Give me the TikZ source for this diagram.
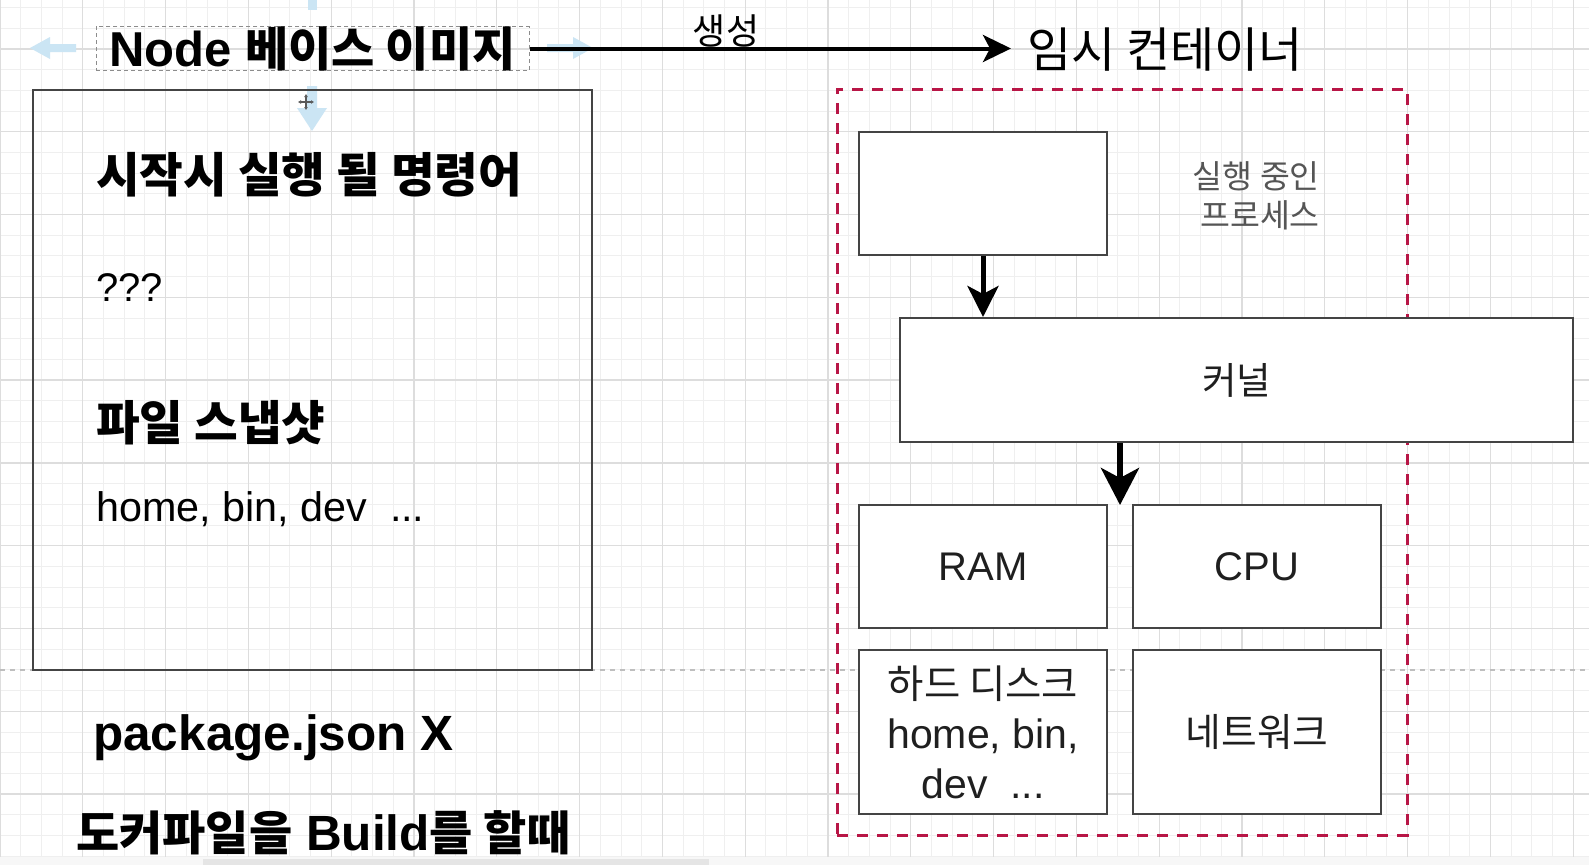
\documentclass[tikz,border=0pt]{standalone}
\usepackage{fontspec}
\setmainfont{Liberation Sans}
\newfontfamily\kr{Noto Sans CJK KR}
\usetikzlibrary{arrows.meta}
\newcommand\setfs[1]{\fontsize{#1}{#1}\selectfont}
\definecolor{gridminor}{RGB}{239,239,239}
\definecolor{gridmajor}{RGB}{221,221,221}
\definecolor{crim}{RGB}{184,22,70}
\definecolor{hoverblue}{RGB}{203,229,244}
\definecolor{boxline}{RGB}{68,68,68}
\definecolor{txtgray}{RGB}{85,85,85}
\definecolor{guide}{RGB}{190,190,190}
\begin{document}
\begin{tikzpicture}[x=1pt,y=-1pt,
  minorline/.style={gridminor, line width=1pt},
  majorline/.style={gridmajor, line width=1.3pt},
  plainbox/.style={draw=boxline, line width=2pt, fill=white, inner sep=0pt, text=black!88},
  lefttext/.style={anchor=base west, inner sep=0pt},
  toparrow/.style={-{Stealth[length=28pt,width=27pt,inset=7pt]}, line width=4pt},
  arrowa/.style={-{Stealth[length=31pt,width=31pt,inset=8pt]}, line width=5pt},
  arrowb/.style={-{Stealth[length=37pt,width=38pt,inset=10pt]}, line width=6pt},
]
\useasboundingbox (0,0) rectangle (1589,865);
\fill[white] (0,0) rectangle (1589,865);
% grid
\foreach \i in {0,...,77} \draw[minorline] ({\i*20.7},0) -- ({\i*20.7},865);
\foreach \j in {0,...,41} \draw[minorline] (0,{7.5+\j*20.7}) -- (1589,{7.5+\j*20.7});
\foreach \i in {0,...,19} \draw[majorline] ({\i*82.8},0) -- ({\i*82.8},865);
\foreach \j in {0,...,9} \draw[majorline] (0,{48.9+\j*82.8}) -- (1589,{48.9+\j*82.8});
% bottom strip
\fill[black!3] (0,857) rectangle (1589,865);
\fill[black!10] (203,859) rectangle (709,865);
% guide line
\coordinate (gl) at (0,670);
\coordinate (gr) at (1589,670);
\draw[guide, line width=1.5pt, dash pattern=on 5pt off 5pt] (gl) -- (gr);
% hover arrows
\fill[hoverblue] (30,48) -- (50,37) -- (50,44) -- (76,44) -- (76,52) -- (50,52) -- (50,59) -- cycle;
\fill[hoverblue] (593,48) -- (573,37) -- (573,44) -- (547,44) -- (547,52) -- (573,52) -- (573,59) -- cycle;
\fill[hoverblue] (308,0) rectangle (317,10);
\fill[hoverblue] (307,86) -- (317,86) -- (317,108) -- (327,108) -- (312,131) -- (297,108) -- (307,108) -- cycle;
% left image box
\node[draw=boxline, line width=2pt, minimum width=559pt, minimum height=580pt, inner sep=0pt] (imgbox) at (312.5,380) {};
% move cursor
\draw[black!65, line width=1.2pt, {Latex[length=3pt,width=4pt]}-{Latex[length=3pt,width=4pt]}] (298,102) -- (314,102);
\draw[black!65, line width=1.2pt, {Latex[length=3pt,width=4pt]}-{Latex[length=3pt,width=4pt]}] (306,94) -- (306,110);
% title
\node[draw=black!45, line width=1pt, dash pattern=on 4pt off 3pt, minimum width=433pt, minimum height=41pt, inner sep=0pt] (title) at (312.5,48.5)
  {\bfseries\setfs{49}Node {\kr\setfs{47}베이스 이미지}};
\node[anchor=base west, inner xsep=16pt, inner ysep=0pt] (tmp) at (1011,67) {\kr\setfs{48}임시 컨테이너};
\draw[toparrow] (title.east) -- (title.east -| tmp.west);
\node[anchor=base, inner sep=0pt] (gen) at (726,44) {\kr\setfs{36}생성};
% left texts
\node[lefttext] (cmdh) at (96,192) {\kr\bfseries\setfs{47.5}시작시 실행 될 명령어};
\node[lefttext] (cmdv) at (96,301) {\setfs{40}???};
\node[lefttext] (snaph) at (96,440) {\kr\bfseries\setfs{47.5}파일 스냅샷};
\node[lefttext] (snapv) at (96,521) {\setfs{41.3}home, bin, dev\ \ ...};
\node[lefttext] (pkg) at (93,750) {\bfseries\setfs{49.5}package.json X};
\node[lefttext] (build) at (76,850) {\bfseries\setfs{49.5}{\kr\setfs{47}도커파일을} Build{\kr\setfs{47}를 할때}};
% container
\node[draw=crim, line width=3pt, dash pattern=on 11pt off 9pt, minimum width=570pt, minimum height=746pt, inner sep=0pt] (cont) at (1122,462) {};
% process
\node[plainbox, minimum width=248pt, minimum height=123pt] (proc) at (983,193.5) {};
\node[anchor=base east, inner sep=0pt, text=txtgray] (procl1) at (1320,188) {\kr\setfs{32.5}실행 중인};
\node[anchor=base east, inner sep=0pt, text=txtgray] (procl2) at (1320,227) {\kr\setfs{32.5}프로세스};
% kernel
\node[plainbox, minimum width=673pt, minimum height=124pt] (kernel) at (1236.5,380) {\kr\setfs{37.5}커널};
% resources
\node[plainbox, minimum width=248pt, minimum height=123pt] (ram) at (983,566.5) {\setfs{40}RAM};
\node[plainbox, minimum width=248pt, minimum height=123pt] (cpu) at (1257,566.5) {\setfs{40}CPU};
\node[plainbox, minimum width=248pt, minimum height=164pt, align=center, font=\fontsize{41}{50}\selectfont] (hdd) at (983,732)
  {{\kr\setfs{39.5}하드 디스크}\\home, bin,\\dev\ \ ...};
\node[plainbox, minimum width=248pt, minimum height=164pt] (net) at (1257,732) {\kr\setfs{38.8}네트워크};
% arrows
\draw[arrowa] (proc.south) -- (proc.south |- kernel.north);
\coordinate (k2) at (1120,505);
\draw[arrowb] (kernel.south -| k2) -- (k2);
\end{tikzpicture}
\end{document}
